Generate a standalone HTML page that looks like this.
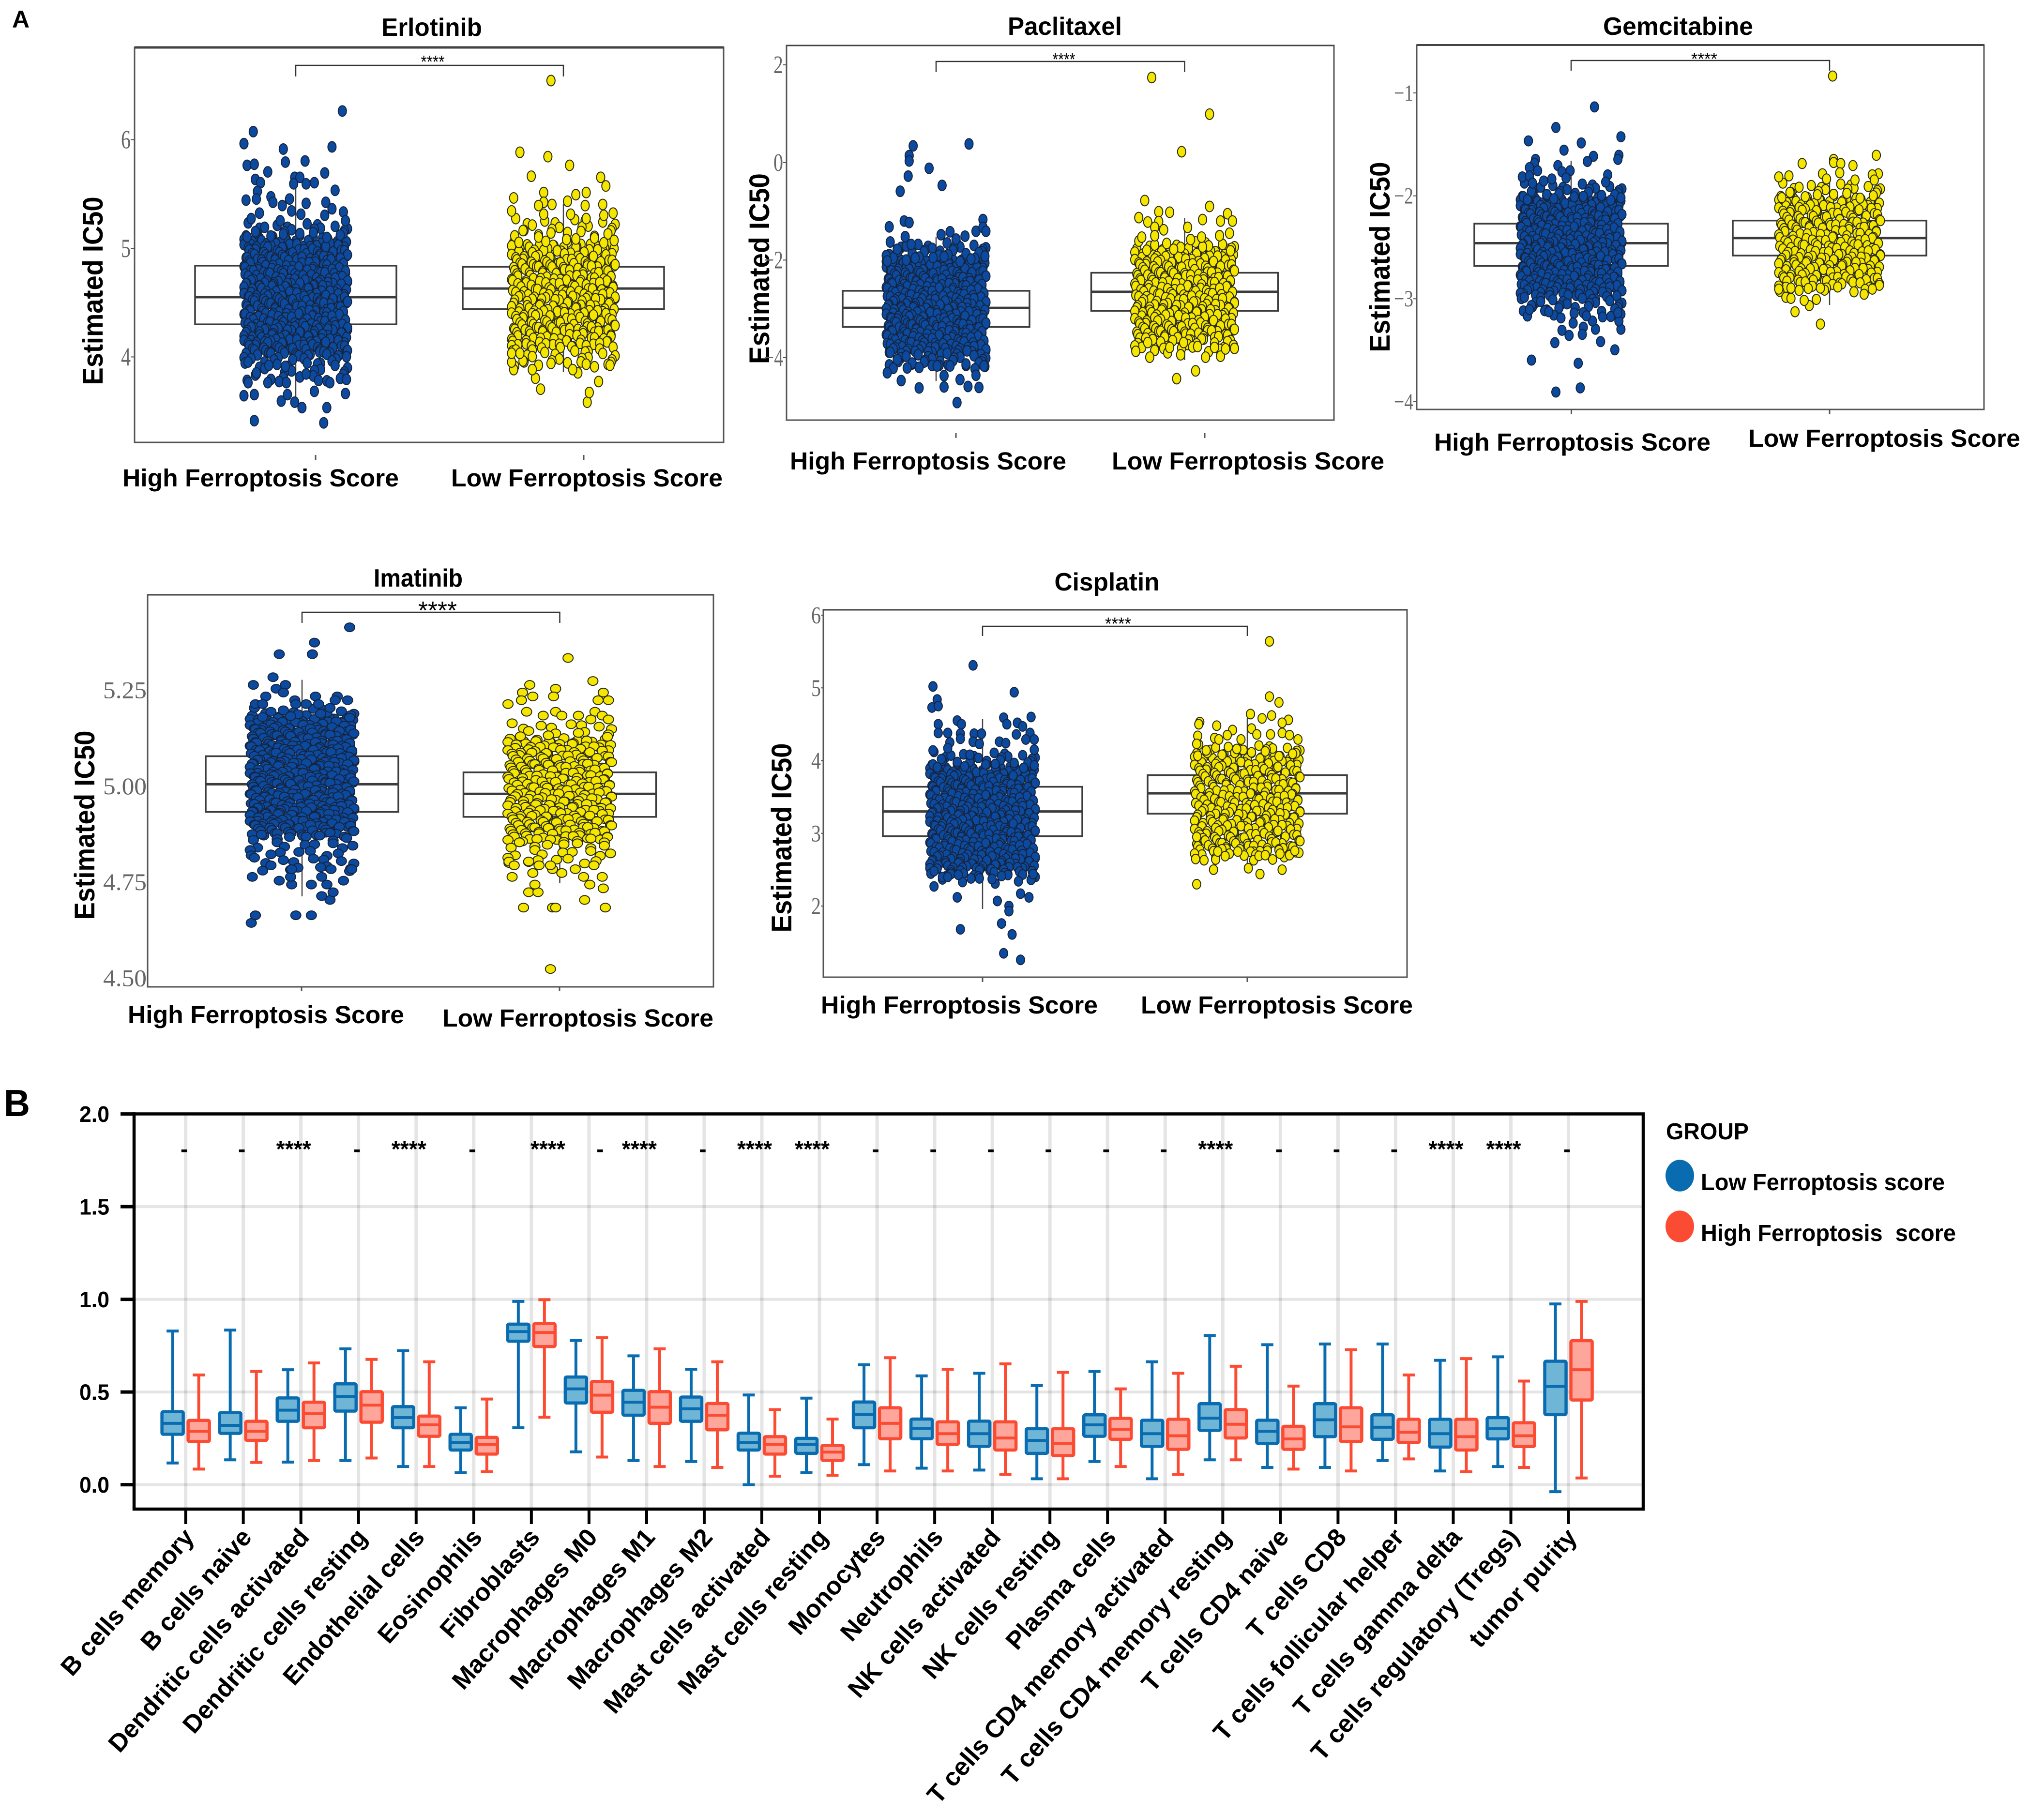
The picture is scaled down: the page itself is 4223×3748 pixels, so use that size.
<!DOCTYPE html>
<html lang="en">
<head>
<meta charset="utf-8">
<title>IC50 and immune infiltration by ferroptosis score</title>
<style>
html,body{margin:0;padding:0;background:#fff}
svg{display:block;position:absolute;left:0;top:0}
text{font-family:"Liberation Sans",sans-serif}
</style>
</head>
<body>
<svg id="figure" xmlns="http://www.w3.org/2000/svg" width="4223" height="3748" viewBox="0 0 4223 3748">
<rect x="0" y="0" width="4223" height="3748" fill="#fff"/>
<text x="25" y="57" font-size="50" font-weight="700">A</text>
<text x="8" y="2306" font-size="78" font-weight="700" textLength="54" lengthAdjust="spacingAndGlyphs">B</text>
<g>
<text x="3442" y="2354" font-size="48" font-weight="700" textLength="171" lengthAdjust="spacingAndGlyphs">GROUP</text>
<ellipse cx="3470.5" cy="2429" rx="29.5" ry="32.7" fill="#0a6cb0"/>
<text x="3514" y="2459" font-size="48" font-weight="700" textLength="504" lengthAdjust="spacingAndGlyphs">Low Ferroptosis score</text>
<ellipse cx="3470.5" cy="2534" rx="29.5" ry="32.7" fill="#fb4c33"/>
<text x="3514" y="2564" font-size="48" font-weight="700" xml:space="preserve" textLength="527" lengthAdjust="spacingAndGlyphs">High Ferroptosis  score</text>
</g>
</svg>
<script>
/* ---------- drug-response panels: data ---------- */
const groupLabels = ['High Ferroptosis Score', 'Low Ferroptosis Score'];

const erlotinibTicks = [6, 5, 4];
const paclitaxelTicks = [2, 0, -2, -4];
const gemcitabineTicks = [-1, -2, -3, -4];
const imatinibTicks = [5.25, 5.00, 4.75, 4.50];
const cisplatinTicks = [6, 5, 4, 3, 2];

/* box summaries: low whisker, q1, median, q3, high whisker */
const erlotinibHighBox = [3.6, 4.30, 4.55, 4.84, 5.57];
const erlotinibLowBox = [3.86, 4.44, 4.63, 4.83, 5.41];
const paclitaxelHighBox = [-4.48, -3.37, -2.98, -2.63, -1.53];
const paclitaxelLowBox = [-4.05, -3.04, -2.65, -2.26, -1.14];
const gemcitabineHighBox = [-3.2, -2.68, -2.46, -2.27, -1.66];
const gemcitabineLowBox = [-3.06, -2.58, -2.41, -2.24, -1.86];
const imatinibHighBox = [4.713, 4.933, 5.005, 5.078, 5.277];
const imatinibLowBox = [4.747, 4.92, 4.98, 5.036, 5.125];
const cisplatinHighBox = [1.96, 2.96, 3.3, 3.64, 4.57];
const cisplatinLowBox = [2.45, 3.27, 3.55, 3.8, 4.59];

/* horizontal jitter of strip points, percent of half strip width */
const jitterRows = [
 [-48,-35,-22,-9,4,17,31,44],[-42,-28,-15,-2,12,25,38,49],[-50,-38,-24,-12,1,14,28,41],
 [-45,-31,-18,-5,8,21,35,47],[-40,-26,-13,0,10,23,33,50],[-47,-33,-20,-7,6,19,30,43],
 [-44,-29,-16,-3,13,27,39,46],[-49,-36,-23,-10,3,16,29,42],[-41,-27,-14,-1,11,24,37,48],
 [-46,-34,-19,-6,7,20,32,45],[-43,-30,-17,-4,9,22,36,50]];
const sparseJitterRows = [[-46,-18,11,38],[-30,-4,24,47],[-39,-12,17,43],[-24,3,30,49],[-50,-21,8,35]];

/* dense and fringe strip levels (IC50), isolated points as [IC50, jitter] */
const erlotinibHighDense = [5.1,5.05,5.02,4.97,4.93,4.9,4.85,4.81,4.78,4.73,4.69,4.66,4.61,4.57,4.54,4.5,4.45,4.41,4.38,4.33,4.29,4.26,4.21,4.17,4.14,4.09,4.05];
const erlotinibHighFringe = [5.22,5.18,5.14,4.02,3.98,3.94,3.88,3.82];
const erlotinibHighPoints = [[6.25,45],[6.06,-41],[5.95,-50],[5.9,-12],[5.92,35],[5.78,-10],[5.79,9],[5.75,-47],[5.76,-40],[5.69,-27],[5.68,28],[5.64,-1],[5.64,4],[5.62,-39],[5.59,-34],[5.58,-2],[5.58,10],[5.59,18],[5.52,38],[5.51,-37],[5.44,-38],[5.43,-48],[5.46,-24],[5.41,-22],[5.44,-6],[5.41,29],[5.4,10],[5.38,-13],[5.33,-4],[5.35,35],[5.32,46],[5.31,-35],[5.3,5],[5.29,28],[5.26,-43],[5.24,-15],[5.24,48],[3.4,-40],[3.38,27],[3.52,6],[3.52,30],[3.57,-1],[3.58,-14],[3.63,-50],[3.64,-40],[3.64,-8],[3.67,18],[3.65,48],[3.75,-46],[3.75,-27],[3.76,-16],[3.75,-9],[3.75,33],[3.78,49],[3.77,22],[3.84,-38],[3.9,-10],[3.83,10],[3.91,-26]];
const erlotinibLowDense = [5.04,4.99,4.93,4.88,4.84,4.78,4.73,4.69,4.63,4.58,4.54,4.48,4.43,4.39,4.33,4.28,4.24,4.18,4.13];
const erlotinibLowFringe = [5.26,5.2,5.15,5.09,4.09,4.05,3.99,3.95];
const erlotinibLowPoints = [[6.53,-12],[5.87,-42],[5.83,-15],[5.75,6],[5.65,-31],[5.64,36],[5.56,41],[5.5,-19],[5.5,22],[5.48,12],[5.45,-48],[5.41,-19],[5.42,4],[5.39,38],[5.38,21],[5.38,-24],[5.39,-11],[5.33,-50],[5.31,48],[5.3,-19],[5.3,7],[5.26,22],[5.29,39],[3.57,23],[3.66,25],[3.76,34],[3.69,-22],[3.79,-27],[3.87,-30],[3.87,-48],[3.94,-50],[3.84,14],[3.87,9],[3.92,22],[3.91,45],[4.02,-50],[4.02,-42]];

const paclitaxelHighDense = [-1.99,-2.08,-2.17,-2.25,-2.35,-2.43,-2.52,-2.61,-2.7,-2.78,-2.88,-2.96,-3.05,-3.14,-3.23,-3.31,-3.41,-3.49,-3.58,-3.67,-3.76,-3.85];
const paclitaxelHighFringe = [-1.66,-1.74,-1.81,-1.88,-1.94,-3.92,-4,-4.07,-4.14];
const paclitaxelHighPoints = [[0.31,-23],[0.11,-27],[0,-27],[-0.31,-28],[-0.15,-7],[-0.5,6],[-0.62,-36],[0.35,33],[-1.23,-32],[-1.26,-27],[-1.35,-47],[-1.55,-31],[-1.51,5],[-1.45,14],[-1.54,29],[-1.44,40],[-1.2,47],[-1.36,47],[-1.44,50],[-1.6,20],[-1.71,-25],[-4.65,-17],[-4.95,21],[-4.63,8],[-4.62,32],[-4.64,43],[-4.34,-49],[-4.5,-35],[-4.4,8],[-4.48,24],[-4.39,40],[-4.2,48],[-4.24,-29],[-4.19,-4],[-4.2,1],[-4.2,14]];
const paclitaxelLowDense = [-1.8,-1.91,-2.02,-2.12,-2.24,-2.35,-2.45,-2.57,-2.68,-2.78,-2.9,-3.01,-3.11,-3.23,-3.34,-3.44,-3.56];
const paclitaxelLowFringe = [-1.64,-1.72,-3.63,-3.71,-3.79];
const paclitaxelLowPoints = [[1.71,-33],[0.96,25],[0.19,-3],[-0.81,-40],[-0.93,25],[-1.04,-26],[-1.05,-15],[-1.16,-46],[-1.08,43],[-1.2,18],[-1.25,-37],[-1.24,-26],[-1.23,36],[-1.23,48],[-1.36,-30],[-1.41,-21],[-1.36,3],[-1.48,45],[-1.53,35],[-1.56,-43],[-1.56,17],[-1.61,6],[-1.53,-30],[-4.46,-8],[-4.3,11],[-4.02,-35],[-3.93,-17],[-3.97,-4],[-4.02,21],[-4,36],[-3.84,50],[-3.8,13],[-3.72,-1],[-3.85,41],[-3.82,30],[-3.82,-15],[-3.72,-37]];

const gemcitabineHighDense = [-2.02,-2.06,-2.11,-2.15,-2.19,-2.23,-2.28,-2.32,-2.36,-2.41,-2.45,-2.49,-2.54,-2.58,-2.62,-2.67,-2.71,-2.75,-2.8,-2.84,-2.88,-2.93];
const gemcitabineHighFringe = [-1.89,-1.93,-1.97,-2,-2.96,-3,-3.04,-3.08,-3.13];
const gemcitabineHighPoints = [[-1.15,23],[-1.35,-15],[-1.48,-42],[-1.44,49],[-1.5,10],[-1.57,-7],[-1.63,22],[-1.62,47],[-1.66,46],[-1.68,16],[-1.66,-35],[-1.7,-36],[-1.74,-41],[-1.72,-13],[-1.77,-33],[-1.77,-1],[-1.78,-9],[-1.84,-5],[-1.83,-48],[-1.82,-41],[-1.81,36],[-1.88,34],[-1.87,-27],[-1.85,-19],[-1.89,-38],[-3.61,-39],[-3.64,7],[-3.92,-15],[-3.88,9],[-3.44,-16],[-3.43,29],[-3.51,43],[-3.31,49],[-3.37,-2],[-3.32,-9],[-3.29,12],[-3.36,11],[-3.31,24],[-3.25,2],[-3.23,21],[-3.2,-10],[-3.23,47],[-3.12,-41],[-3.13,-26],[-3.14,-22],[-3.18,15],[-3.19,31],[-3.15,46]];
const gemcitabineLowDense = [-2.02,-2.08,-2.13,-2.19,-2.25,-2.3,-2.36,-2.42,-2.47,-2.53,-2.59,-2.64,-2.7,-2.76,-2.81];
const gemcitabineLowFringe = [-1.89,-1.93,-1.98,-2.85,-2.89];
const gemcitabineLowPoints = [[-0.85,3],[-1.62,46],[-1.7,-27],[-1.66,4],[-1.69,4],[-1.7,11],[-1.72,23],[-1.8,-7],[-1.79,10],[-1.83,-50],[-1.82,-40],[-1.8,48],[-1.81,42],[-1.85,-3],[-1.86,25],[-1.86,44],[-3.26,-9],[-3.14,-34],[-3.08,-20],[-3.03,-25],[-3.02,-13],[-3,-43],[-3.01,-38],[-2.92,-50],[-2.97,34],[-2.92,42],[-2.93,-5],[-2.91,-9],[-2.91,-38]];

const imatinibHighDense = [5.18,5.17,5.155,5.145,5.135,5.12,5.11,5.1,5.09,5.075,5.065,5.055,5.04,5.03,5.02,5.01,4.995,4.985,4.975,4.96,4.95,4.94,4.93,4.915,4.905,4.895,4.88];
const imatinibHighFringe = [5.2,5.19,4.87,4.85,4.83,4.81,4.79];
const imatinibHighPoints = [[5.41,46],[5.37,12],[5.34,10],[5.34,-22],[5.28,-28],[5.26,-16],[5.26,-47],[5.25,-25],[5.24,-18],[5.23,-35],[5.22,-7],[5.23,13],[5.23,34],[5.22,44],[5.22,32],[5.21,-6],[5.21,-45],[5.21,-38],[5.21,4],[5.21,16],[5.2,27],[4.64,-49],[4.66,-45],[4.66,-6],[4.66,9],[4.7,27],[4.71,19],[4.72,30],[4.74,24],[4.74,9],[4.75,-22],[4.74,-10],[4.76,-48],[4.75,40],[4.78,48],[4.76,-11],[4.76,19],[4.78,28],[4.78,-10]];
const imatinibLowDense = [5.12,5.105,5.09,5.075,5.06,5.045,5.03,5.015,5,4.985,4.97,4.955,4.94,4.925,4.91,4.895,4.88,4.865];
const imatinibLowFringe = [5.16,5.14,4.85,4.83,4.81];
const imatinibLowPoints = [[5.33,8],[5.27,32],[5.25,-4],[5.23,-6],[5.26,-29],[5.24,-36],[5.22,-37],[5.23,-26],[5.21,-50],[5.24,42],[5.22,37],[5.22,47],[5.19,-32],[5.19,34],[5.18,18],[5.19,-4],[5.18,2],[5.18,-16],[5.17,30],[5.18,41],[5.17,47],[4.52,-9],[4.68,-35],[4.68,-7],[4.68,-4],[4.7,24],[4.68,44],[4.73,42],[4.72,-30],[4.72,-21],[4.74,-24],[4.76,-46],[4.74,29],[4.76,23],[4.76,41],[4.77,-26],[4.78,-7],[4.77,2],[4.8,-49],[4.79,-44],[4.8,-30],[4.79,-20],[4.79,-9],[4.78,15],[4.79,33]];

const cisplatinHighDense = [3.92,3.86,3.8,3.74,3.68,3.62,3.56,3.5,3.44,3.38,3.32,3.26,3.2,3.14,3.08,3.02,2.96,2.9,2.84,2.78,2.72,2.66,2.6,2.54];
const cisplatinHighFringe = [4.1,4.05,4,3.96,2.5,2.46,2.42];
const cisplatinHighPoints = [[5.29,-9],[5,-47],[4.92,30],[4.82,-43],[4.71,-48],[4.73,-42],[4.57,20],[4.58,46],[4.53,-24],[4.48,-20],[4.48,23],[4.5,33],[4.45,38],[4.48,-42],[4.36,-42],[4.36,-33],[4.35,-21],[4.35,-8],[4.35,-1],[4.34,32],[4.36,45],[4.27,49],[4.27,41],[4.24,16],[4.22,22],[4.24,-9],[4.21,-3],[4.28,-21],[4.23,-31],[4.15,-33],[4.12,-47],[4.13,49],[4.06,-12],[2.25,-46],[2.1,-24],[1.66,-21],[2.05,14],[1.98,25],[1.91,25],[1.74,18],[1.59,28],[1.33,20],[1.24,36],[2.1,44],[2.15,36],[2.42,48],[2.31,-19],[2.29,12],[2.35,9],[2.36,-3],[2.32,34],[2.38,-38],[2.38,-33],[2.41,-23]];
const cisplatinLowDense = [4.08,4,3.92,3.84,3.76,3.68,3.6,3.52,3.44,3.36,3.28,3.2,3.12,3.04,2.96,2.88,2.8];
const cisplatinLowFringe = [4.2,4.16,4.12,2.76,2.7];
const cisplatinLowPoints = [[5.62,21],[4.86,21],[4.78,30],[4.62,3],[4.6,23],[4.56,14],[4.54,39],[4.5,33],[4.51,-45],[4.48,-46],[4.46,-29],[4.42,4],[4.4,-14],[4.33,-19],[4.32,-47],[4.29,-31],[4.27,-27],[4.34,9],[4.34,22],[4.36,33],[4.33,40],[4.27,48],[4.27,-6],[4.21,-48],[4.14,-10],[2.28,-48],[2.42,12],[2.48,33],[2.5,1],[2.48,-32],[2.61,-41],[2.61,6],[2.62,-30],[2.73,-28],[2.67,11],[2.68,17],[2.7,31],[2.68,40],[2.74,45],[2.73,-9],[2.93,-48]];

/* ---------- immune-infiltration panel: data ---------- */
const cellTypes = ['B cells memory','B cells naive','Dendritic cells activated','Dendritic cells resting','Endothelial cells','Eosinophils','Fibroblasts','Macrophages M0','Macrophages M1','Macrophages M2','Mast cells activated','Mast cells resting','Monocytes','Neutrophils','NK cells activated','NK cells resting','Plasma cells','T cells CD4 memory activated','T cells CD4 memory resting','T cells CD4 naive','T cells CD8','T cells follicular helper','T cells gamma delta','T cells regulatory (Tregs)','tumor purity'];
const significance = ['-','-','****','-','****','-','****','-','****','-','****','****','-','-','-','-','-','-','****','-','-','-','****','****','-'];
const scoreTicks = [0, 0.5, 1, 1.5, 2];
const scoreTickLabels = ['0.0','0.5','1.0','1.5','2.0'];
/* each entry: low whisker, q1, median, q3, high whisker */
const lowScoreBoxes = [[.117,.272,.331,.394,.829],[.134,.277,.32,.389,.834],[.122,.342,.402,.468,.62],[.13,.397,.476,.544,.733],[.098,.307,.362,.421,.723],[.065,.187,.228,.272,.415],[.307,.774,.826,.866,.989],[.177,.441,.517,.581,.778],[.13,.375,.445,.509,.695],[.125,.342,.41,.473,.623],[0,.187,.228,.278,.484],[.065,.169,.217,.25,.467],[.108,.307,.378,.446,.647],[.089,.248,.304,.354,.587],[.079,.207,.275,.343,.601],[.032,.169,.239,.302,.535],[.125,.261,.323,.377,.611],[.032,.207,.275,.348,.663],[.134,.293,.359,.437,.805],[.093,.223,.288,.348,.755],[.093,.259,.35,.437,.759],[.13,.245,.31,.377,.759],[.074,.203,.275,.353,.671],[.098,.247,.302,.362,.69],[-.038,.378,.53,.666,.975]];
const highScoreBoxes = [[.084,.233,.288,.347,.592],[.12,.239,.288,.342,.611],[.13,.307,.383,.445,.657],[.144,.337,.429,.502,.676],[.098,.261,.323,.37,.663],[.07,.165,.217,.255,.462],[.364,.745,.821,.869,.998],[.149,.391,.483,.557,.793],[.098,.331,.418,.502,.733],[.093,.296,.375,.438,.663],[.046,.165,.217,.259,.405],[.051,.131,.176,.212,.354],[.074,.248,.331,.415,.685],[.074,.217,.275,.339,.623],[.055,.187,.252,.339,.652],[.032,.157,.223,.302,.606],[.098,.245,.299,.358,.517],[.055,.191,.264,.353,.601],[.134,.252,.326,.405,.639],[.084,.191,.247,.315,.532],[.074,.233,.312,.415,.728],[.139,.228,.283,.353,.592],[.07,.187,.259,.353,.68],[.093,.206,.264,.334,.559],[.036,.457,.62,.777,.989]];

/* ---------- layout (pixels) ---------- */
const wobblePx = [-3,2,-1,4,-4,1,3,-2];
const panels = [
 {id:'erlotinib', title:'Erlotinib', frame:[278,98,1495,914], topWidth:5, scale:[6,288.5,4,737.5], ticks:erlotinibTicks, tickText:erlotinibTicks.map(String), tickRight:270, tickFs:54, tickCharW:20,
  centers:[611,1164], boxHalf:208, jitHalf:107, dot:[8.5,11], xTicks:[652,1206], xTickY:[940,951],
  titleBox:[892,208,74], labelBox:[[253,571,1005],[932,561,1005]], yLabel:[212,601,389], bracket:[135,158], stars:[894,49,36,140],
  high:{box:erlotinibHighBox,dense:erlotinibHighDense,fringe:erlotinibHighFringe,points:erlotinibHighPoints}, low:{box:erlotinibLowBox,dense:erlotinibLowDense,fringe:erlotinibLowFringe,points:erlotinibLowPoints}},
 {id:'paclitaxel', title:'Paclitaxel', frame:[1625,94,2756,868], topWidth:3, scale:[2,134,-4,739], ticks:paclitaxelTicks, tickText:['2','0','\u22122','\u22124'], tickRight:1618, tickFs:52, tickCharW:20,
  centers:[1934,2447.5], boxHalf:193, jitHalf:103, dot:[8.5,11], xTicks:[1975,2489], xTickY:[895,905],
  titleBox:[2200,236,72], labelBox:[[1632,571,970],[2297,563,970]], yLabel:[1589,555,394], bracket:[127,149], stars:[2198,47,36,135],
  high:{box:paclitaxelHighBox,dense:paclitaxelHighDense,fringe:paclitaxelHighFringe,points:paclitaxelHighPoints}, low:{box:paclitaxelLowBox,dense:paclitaxelLowDense,fringe:paclitaxelLowFringe,points:paclitaxelLowPoints}},
 {id:'gemcitabine', title:'Gemcitabine', frame:[2927,93,4099,846], topWidth:4, scale:[-1,192,-4,830], ticks:gemcitabineTicks, tickText:['\u22121','\u22122','\u22123','\u22124'], tickRight:2920, tickFs:48, tickCharW:20,
  centers:[3246,3780], boxHalf:200, jitHalf:105, dot:[8.5,10.5], xTicks:[3246.5,3780], xTickY:[846,856],
  titleBox:[3467,310,72], labelBox:[[2963,571,931],[3612,562,923]], yLabel:[2871,531,393], bracket:[125,146], stars:[3521,54,36,134],
  high:{box:gemcitabineHighBox,dense:gemcitabineHighDense,fringe:gemcitabineHighFringe,points:gemcitabineHighPoints}, low:{box:gemcitabineLowBox,dense:gemcitabineLowDense,fringe:gemcitabineLowFringe,points:gemcitabineLowPoints}},
 {id:'imatinib', title:'Imatinib', frame:[305,1229,1474,2039], topWidth:3, scale:[5.25,1426,4.5,2021], ticks:imatinibTicks, tickText:['5.25','5.00','4.75','4.50'], tickRight:303, tickFs:50, tickCharW:22.5,
  centers:[624,1156.5], boxHalf:199, jitHalf:107, dot:[10.5,9], xTicks:[623,1156], xTickY:[2039,2048],
  titleBox:[864,184,1212], labelBox:[[264,571,2114],[914,560,2121]], yLabel:[195,1705,391], bracket:[1265,1287], stars:[904,80,52,1279],
  high:{box:imatinibHighBox,dense:imatinibHighDense,fringe:imatinibHighFringe,points:imatinibHighPoints}, low:{box:imatinibLowBox,dense:imatinibLowDense,fringe:imatinibLowFringe,points:imatinibLowPoints}},
 {id:'cisplatin', title:'Cisplatin', frame:[1701,1260,2907,2019], topWidth:3, scale:[6,1271,2,1872], ticks:cisplatinTicks, tickText:cisplatinTicks.map(String), tickRight:1696, tickFs:50, tickCharW:20,
  centers:[2030,2577], boxHalf:206, jitHalf:109, dot:[8.5,10], xTicks:[2030,2577], xTickY:[2019,2029],
  titleBox:[2287,217,1220], labelBox:[[1696,572,2094],[2357,562,2094]], yLabel:[1635,1731,391], bracket:[1294,1314], stars:[2310,54,36,1301],
  high:{box:cisplatinHighBox,dense:cisplatinHighDense,fringe:cisplatinHighFringe,points:cisplatinHighPoints}, low:{box:cisplatinLowBox,dense:cisplatinLowDense,fringe:cisplatinLowFringe,points:cisplatinLowPoints}}
];

const SVG_NS = 'http://www.w3.org/2000/svg';
const figure = document.getElementById('figure');
function add(parent, tag, attrs, text) {
  const el = document.createElementNS(SVG_NS, tag);
  for (const k in attrs) el.setAttribute(k, attrs[k]);
  if (text !== undefined) el.textContent = text;
  parent.appendChild(el);
  return el;
}

/* ---------- strip / box panels ---------- */
function drawPanel(p) {
  const g = add(figure, 'g', {});
  
  
  const yOf = v => p.scale[1] + (v - p.scale[0]) * (p.scale[3] - p.scale[1]) / (p.scale[2] - p.scale[0]);
  const [fx0, fy0, fx1, fy1] = p.frame;

  const frame = add(g, 'rect', {x:fx0, y:fy0, width:fx1-fx0, height:fy1-fy0, fill:'#fff', stroke:'#555', 'stroke-width':3});
  
  
  const topEdge = add(g, 'line', {x1:fx0, x2:fx1, y1:fy0, y2:fy0, stroke:'#444', 'stroke-width':p.topWidth});
  
  

  const title = add(g, 'text', {x:p.titleBox[0], y:p.titleBox[2], 'text-anchor':'middle', 'font-size':52, 'font-weight':700, textLength:p.titleBox[1], lengthAdjust:'spacingAndGlyphs'}, p.title);
  
  

  const yTitle = add(g, 'text', {transform:'translate(' + p.yLabel[0] + ' ' + p.yLabel[1] + ') rotate(-90)', 'text-anchor':'middle', 'font-size':58, 'font-weight':700, textLength:p.yLabel[2], lengthAdjust:'spacingAndGlyphs'}, 'Estimated IC50');
  
  

  p.ticks.forEach((v, i) => {
    const y = yOf(v);
    const lab = add(g, 'text', {x:p.tickRight, y:y + p.tickFs * 0.33, 'text-anchor':'end', fill:'#666', 'font-size':p.tickFs, style:'font-family:"Liberation Serif",serif', textLength:p.tickCharW * p.tickText[i].length, lengthAdjust:'spacingAndGlyphs'}, p.tickText[i]);
    
    
    const mark = add(g, 'line', {x1:p.tickRight, x2:fx0, y1:y, y2:y, stroke:'#555', 'stroke-width':2});
    
    
  });

  groupLabels.forEach((name, i) => {
    const mark = add(g, 'line', {x1:p.xTicks[i], x2:p.xTicks[i], y1:p.xTickY[0], y2:p.xTickY[1], stroke:'#555', 'stroke-width':3});
    
    
    const box = p.labelBox[i];
    const lab = add(g, 'text', {x:box[0], y:box[2], 'font-size':51, 'font-weight':700, textLength:box[1], lengthAdjust:'spacingAndGlyphs'}, name);
    
    
  });

  [[p.high, '#0b4a9e', '#16243f', 0], [p.low, '#f5e600', '#2b2b10', 1]].forEach(([series, fill, edge, i]) => {
    const cx = p.centers[i];
    const [lo, q1, med, q3, hi] = series.box;
    const whisker = add(g, 'line', {x1:cx, x2:cx, y1:yOf(hi), y2:yOf(lo), stroke:'#444', 'stroke-width':2.5});
    
    
    const box = add(g, 'rect', {x:cx - p.boxHalf, y:yOf(q3), width:p.boxHalf * 2, height:yOf(q1) - yOf(q3), fill:'none', stroke:'#3c3c3c', 'stroke-width':3.5});
    
    
    const median = add(g, 'line', {x1:cx - p.boxHalf, x2:cx + p.boxHalf, y1:yOf(med), y2:yOf(med), stroke:'#3c3c3c', 'stroke-width':5});
    
    

    const cloud = add(g, 'g', {fill:fill, stroke:edge, 'stroke-width':2});
    
    
    const dot = (v, j, k, shift) => {
      const pt = add(cloud, 'ellipse', {cx:cx + j / 50 * p.jitHalf, cy:yOf(v) + wobblePx[k % wobblePx.length] + shift, rx:p.dot[0], ry:p.dot[1]});
      
      
    };
    /* each level carries two passes of jitter so the core reads as solid as the source */
    const layLevels = (levels, rows) => levels.forEach((v, r) => {
      rows[r % rows.length].forEach((j, k) => dot(v, j, k, 0));
      rows[(r + 4) % rows.length].forEach((j, k) => dot(v, -j, k + 3, 5));
    });
    layLevels(series.dense, jitterRows);
    layLevels(series.fringe, sparseJitterRows);
    series.points.forEach(pair => dot(pair[0], pair[1], 0, 0));
  });

  const bracket = add(g, 'path', {d:'M' + p.centers[0] + ' ' + p.bracket[1] + 'V' + p.bracket[0] + 'H' + p.centers[1] + 'V' + p.bracket[1], fill:'none', stroke:'#333', 'stroke-width':2.5});
  
  
  const stars = add(g, 'text', {x:p.stars[0], y:p.stars[3], 'text-anchor':'middle', 'font-size':p.stars[2], textLength:p.stars[1], lengthAdjust:'spacingAndGlyphs'}, '****');
  
  
}
panels.forEach(drawPanel);

/* ---------- immune box plot ---------- */
const immuneX = i => 383.6 + 119.04 * i;
const immuneY = v => 3067.6 - 383 * v;
const immune = add(figure, 'g', {});



scoreTicks.forEach((v, i) => {
  const y = immuneY(v);
  const grid = add(immune, 'line', {x1:277, x2:3395, y1:y, y2:y, stroke:'rgba(0,0,0,.1)', 'stroke-width':6});
  
  
  const mark = add(immune, 'line', {x1:249, x2:280, y1:y, y2:y, stroke:'#000', 'stroke-width':7});
  
  
  const lab = add(immune, 'text', {x:226, y:y + 16.5, 'text-anchor':'end', 'font-size':46, 'font-weight':700, textLength:62, lengthAdjust:'spacingAndGlyphs'}, scoreTickLabels[i]);
  
  
});

function drawImmuneBox(values, cx, stroke, fill, name) {
  const [lo, q1, med, q3, hi] = values;
  const g = add(immune, 'g', {stroke:stroke});
  
  
  const stem = add(g, 'line', {x1:cx, x2:cx, y1:immuneY(hi), y2:immuneY(lo), 'stroke-width':6});
  
  
  [hi, lo].forEach(v => {
    const cap = add(g, 'line', {x1:cx - 12.5, x2:cx + 12.5, y1:immuneY(v), y2:immuneY(v), 'stroke-width':6});
    
    
  });
  const box = add(g, 'rect', {x:cx - 22, y:immuneY(q3), width:44, height:immuneY(q1) - immuneY(q3), rx:3, fill:fill, 'stroke-width':6.5});
  
  
  const mid = add(g, 'line', {x1:cx - 22, x2:cx + 22, y1:immuneY(med), y2:immuneY(med), 'stroke-width':6});
  
  
}

cellTypes.forEach((name, i) => {
  const x = immuneX(i);
  const grid = add(immune, 'line', {x1:x, x2:x, y1:2301, y2:3118, stroke:'rgba(0,0,0,.1)', 'stroke-width':7});
  
  
  const mark = add(immune, 'line', {x1:x, x2:x, y1:3118, y2:3149, stroke:'#000', 'stroke-width':6});
  
  
  const lab = add(immune, 'text', {transform:'translate(' + (x + 20) + ' 3178) rotate(-48.5)', 'text-anchor':'end', 'font-size':52, 'font-weight':700}, name);
  
  
  const isDash = significance[i] === '-';
  const nudge = isDash ? (i === 7 ? 23 : -3) : (i === 6 ? 34 : -15);
  const sig = add(immune, 'text', {x:x + nudge, y:2390, 'text-anchor':'middle', 'font-size':46, 'font-weight':700}, significance[i]);
  if (!isDash) sig.setAttribute('textLength', 72);
  
  
});
cellTypes.forEach((name, i) => {
  const x = immuneX(i);
  drawImmuneBox(lowScoreBoxes[i], x - 27, '#0a6cb0', '#6fb5d6', 'box-low-score');
  drawImmuneBox(highScoreBoxes[i], x + 27, '#fb4c33', '#ffa69c', 'box-high-score');
});
const immuneFrame = add(immune, 'rect', {x:277, y:2301.5, width:3118, height:816.5, fill:'none', stroke:'#000', 'stroke-width':6.5});


</script>
</body>
</html>
